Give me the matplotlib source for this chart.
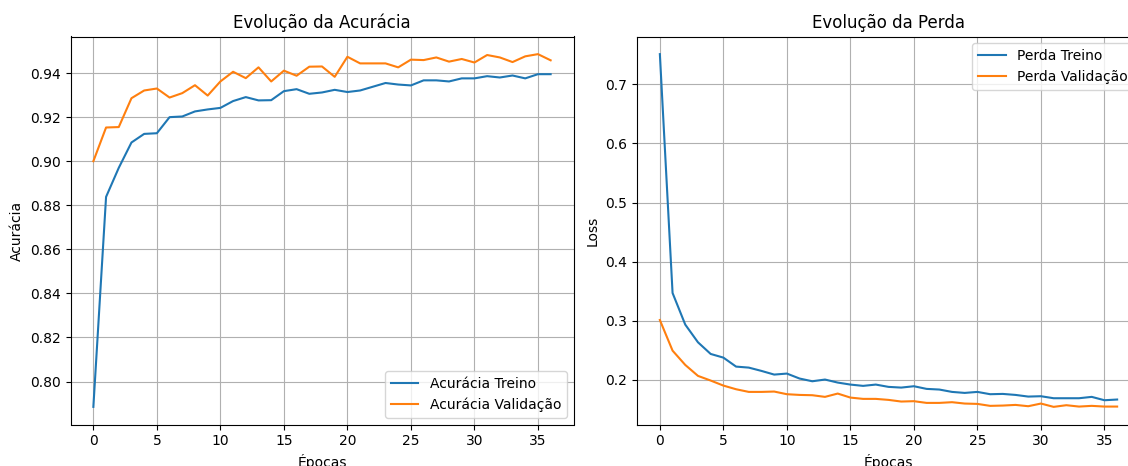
import matplotlib
matplotlib.use("Agg")
import matplotlib.pyplot as plt

epochs = list(range(37))

acc_train = [0.7885, 0.8838, 0.897, 0.9085, 0.9124, 0.9127, 0.9200, 0.9203, 0.9226, 0.9235,
             0.9242, 0.9273, 0.9291, 0.9276, 0.9277, 0.9318, 0.9327, 0.9306, 0.9312, 0.9324,
             0.9314, 0.9321, 0.9338, 0.9355, 0.9348, 0.9344, 0.9367, 0.9367, 0.9362, 0.9376,
             0.9376, 0.9386, 0.9380, 0.9389, 0.9376, 0.9395, 0.9395]
acc_val = [0.900, 0.9153, 0.9155, 0.9286, 0.9321, 0.9330, 0.9289, 0.9309, 0.9345, 0.9298,
           0.9362, 0.9406, 0.9377, 0.9426, 0.9362, 0.9411, 0.9388, 0.9429, 0.9430, 0.9383,
           0.9474, 0.9444, 0.9444, 0.9444, 0.9426, 0.9461, 0.9459, 0.9471, 0.9452, 0.9464,
           0.9448, 0.9482, 0.9471, 0.9450, 0.9476, 0.9486, 0.9458]

loss_train = [0.751, 0.347, 0.2935, 0.2636, 0.2439, 0.2377, 0.2225, 0.2208, 0.2152, 0.2090,
              0.2107, 0.2023, 0.1977, 0.2006, 0.1955, 0.1921, 0.1899, 0.1921, 0.1882, 0.1870,
              0.1893, 0.1848, 0.1837, 0.1797, 0.1780, 0.1797, 0.1758, 0.1763, 0.1746, 0.1718,
              0.1724, 0.1690, 0.1690, 0.1690, 0.1713, 0.1656, 0.1668]
loss_val = [0.3013, 0.2495, 0.2253, 0.2068, 0.1989, 0.1904, 0.1842, 0.1797, 0.1797, 0.1803,
            0.1758, 0.1746, 0.1741, 0.1713, 0.1769, 0.1701, 0.1679, 0.1679, 0.1662, 0.1634,
            0.1640, 0.1611, 0.1611, 0.1623, 0.1600, 0.1594, 0.1561, 0.1566, 0.1577, 0.1555,
            0.1600, 0.1544, 0.1572, 0.1549, 0.1561, 0.1549, 0.1549]

fig = plt.figure(figsize=(11.28, 4.66), dpi=100)
ax1 = fig.add_axes([70.5 / 1128, 41.5 / 466, 503 / 1128, 388 / 466])
ax2 = fig.add_axes([637 / 1128, 41.5 / 466, 503 / 1128, 388 / 466])

ax1.plot(epochs, acc_train, label="Acurácia Treino")
ax1.plot(epochs, acc_val, label="Acurácia Validação")
ax1.set_title("Evolução da Acurácia")
ax1.set_xlabel("Épocas")
ax1.set_ylabel("Acurácia")
ax1.legend(loc="lower right")
ax1.grid(True)

ax2.plot(epochs, loss_train, label="Perda Treino")
ax2.plot(epochs, loss_val, label="Perda Validação")
ax2.set_title("Evolução da Perda")
ax2.set_xlabel("Épocas")
ax2.set_ylabel("Loss")
ax2.legend(loc="upper right")
ax2.grid(True)

fig.savefig("out.png", dpi=100)
